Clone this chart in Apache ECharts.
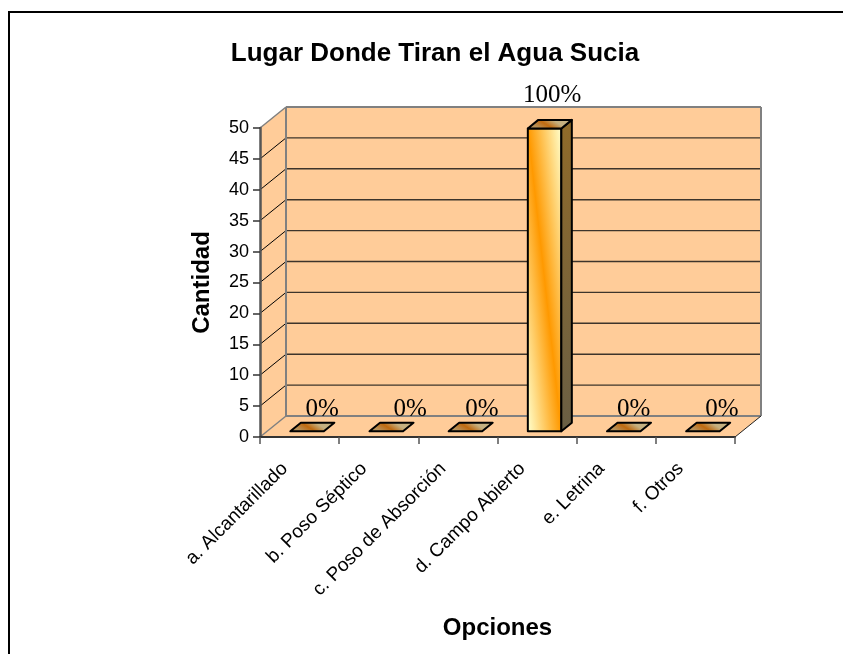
<!DOCTYPE html>
<html>
<head>
<meta charset="utf-8">
<style>html,body{margin:0;padding:0;background:#fff}#chart{width:843px;height:654px}</style>
<script src="https://cdn.jsdelivr.net/npm/echarts@6/dist/echarts.min.js"></script>
</head>
<body>
<div id="chart"></div>
<script>
// Survey results: where households dispose of dirty water
const categories = ['a. Alcantarillado', 'b. Poso Séptico', 'c. Poso de Absorción', 'd. Campo Abierto', 'e. Letrina', 'f. Otros'];
const counts = [0, 0, 0, 49, 0, 0];
const chartTitle = 'Lugar Donde Tiran el Agua Sucia';
const yAxisTitle = 'Cantidad';
const xAxisTitle = 'Opciones';

// Horizontal placement of each percentage label, relative to its bar
const labelShift = [15, 24, 16.5, 7.5, 10, 19];

// Pseudo-3D box geometry
const WALL_DX = 26, WALL_DY = 21;      // depth of the chart's back wall
const BAR_DX = 7.5, BAR_DY = 5.7;      // front face of a bar inside the depth
const BOX_DX = 10.5, BOX_DY = 8.6;     // depth of a bar
const BAR_W = 33.5;

const WALL = '#FFCC99', EDGE = '#808080', total = counts.reduce((a, b) => a + b, 0);
const seg = (x1, y1, x2, y2, stroke, lineWidth) => ({ type: 'line', shape: { x1, y1, x2, y2 }, style: { stroke, lineWidth } });
const poly = (points, fill, stroke, lineWidth) => ({ type: 'polygon', shape: { points }, style: { fill, stroke, lineWidth, lineJoin: 'round' } });
const grad = (x, y, x2, y2, stops) => new echarts.graphic.LinearGradient(x, y, x2, y2, stops.map((color, i) => ({ offset: i / (stops.length - 1), color })), true);

function renderWalls(params, api) {
  const band = api.size([1, 0])[0];
  const left = api.coord([0, 0])[0] - band / 2;
  const right = left + band * categories.length;
  const y0 = api.coord([0, 0])[1], yTop = api.coord([0, 50])[1];
  const dx = WALL_DX, dy = WALL_DY;
  const children = [
    poly([[left, y0], [left + dx, y0 - dy], [right + dx, y0 - dy], [right, y0]], WALL),
    poly([[left, yTop], [left + dx, yTop - dy], [left + dx, y0 - dy], [left, y0]], WALL),
    poly([[left + dx, yTop - dy], [right + dx, yTop - dy], [right + dx, y0 - dy], [left + dx, y0 - dy]], WALL)
  ];
  for (let v = 5; v < 50; v += 5) {
    const y = api.coord([0, v])[1];
    children.push(seg(left + dx, y - dy, right + dx, y - dy, '#3d342b', 1.4));
    children.push(seg(left, y, left + dx, y - dy, '#000', 1));
  }
  children.push(
    seg(left, yTop, left + dx, yTop - dy, EDGE, 1.5),
    seg(left + dx, yTop - dy, right + dx, yTop - dy, EDGE, 2),
    seg(left + dx, yTop - dy, left + dx, y0 - dy, EDGE, 2),
    seg(right + dx, yTop - dy, right + dx, y0 - dy, EDGE, 2),
    seg(left + dx, y0 - dy, right + dx, y0 - dy, EDGE, 2),
    seg(left, y0, left + dx, y0 - dy, EDGE, 1.5),
    seg(right, y0, right + dx, y0 - dy, '#222', 1)
  );
  return { type: 'group', children };
}

function renderBar(params, api) {
  const i = api.value(0), v = api.value(1);
  const base = api.coord([i, 0]), top = api.coord([i, v]);
  const cx = base[0] + BAR_DX, bottom = base[1] - BAR_DY, yTop = top[1] - BAR_DY;
  const x0 = cx - BAR_W / 2, x1 = cx + BAR_W / 2;
  const h = bottom - yTop;
  const children = [];

  if (h > 0) {
    // Diagonal sheen: orange along the top-left to bottom-right corners, pale elsewhere
    const len = Math.hypot(BAR_W, h);
    const nx = h / len, ny = -BAR_W / len;
    const reach = (BAR_W / 2) * nx - (h / 2) * ny;
    const mx = (x0 + x1) / 2, my = (yTop + bottom) / 2;
    children.push(poly([[x0, yTop], [x1, yTop], [x1, bottom], [x0, bottom]],
      grad(mx - reach * nx, my - reach * ny, mx + reach * nx, my + reach * ny, ['#FFFFCC', '#FF9900', '#FFFFCC']), '#000', 2));
    children.push(poly([[x1, yTop], [x1 + BOX_DX, yTop - BOX_DY], [x1 + BOX_DX, bottom - BOX_DY], [x1, bottom]],
      grad(x1, yTop, x1 + BOX_DX, bottom, ['#8F6A2A', '#6A5F44']), '#000', 2));
  }
  // Top face (all that shows for an empty bar)
  children.push(poly([[x0, yTop], [x1, yTop], [x1 + BOX_DX, yTop - BOX_DY], [x0 + BOX_DX, yTop - BOX_DY]],
    grad(x0 + 14, yTop + 2, x0 + 22, yTop - BOX_DY - 2, ['#B8925A', '#BF6A10', '#C5B080']), '#000', 2));

  children.push({
    type: 'text',
    style: {
      x: cx + labelShift[i],
      y: yTop - (v > 0 ? 21 : 9),
      text: Math.round(v / total * 100) + '%',
      fill: '#000',
      font: '25px "Liberation Serif"',
      align: 'center',
      verticalAlign: 'bottom'
    }
  });
  return { type: 'group', children };
}

const chart = echarts.init(document.getElementById('chart'), null, { renderer: 'canvas' });
chart.setOption({
  animation: false,
  backgroundColor: '#fff',
  textStyle: { fontFamily: '"Liberation Sans"' },
  title: {
    text: chartTitle,
    left: 430,
    top: 36,
    textAlign: 'center',
    textStyle: { fontFamily: '"Liberation Sans"', fontSize: 26, fontWeight: 'bold', color: '#000' }
  },
  graphic: [{
    type: 'rect',
    shape: { x: 9, y: 12, width: 900, height: 700 },
    style: { fill: 'none', stroke: '#000', lineWidth: 2 },
    silent: true
  }],
  grid: { left: 260, top: 128, width: 475, height: 309, containLabel: false },
  xAxis: {
    type: 'category',
    data: categories,
    z: 5,
    name: xAxisTitle,
    nameLocation: 'middle',
    nameGap: 179,
    nameTextStyle: { fontFamily: '"Liberation Sans"', fontSize: 24, fontWeight: 'bold', color: '#000' },
    axisLine: { lineStyle: { color: '#333', width: 2 } },
    axisTick: { show: true, length: 7, alignWithLabel: false, lineStyle: { color: '#555', width: 1.5 } },
    axisLabel: { interval: 0, rotate: 45, margin: 14, padding: [0, 21, 0, 0], fontSize: 19, color: '#000', fontFamily: '"Liberation Sans"' },
    splitLine: { show: false }
  },
  yAxis: {
    type: 'value',
    min: 0,
    max: 50,
    interval: 5,
    z: 5,
    name: yAxisTitle,
    nameLocation: 'middle',
    nameGap: 46,
    nameRotate: 90,
    nameTextStyle: { fontFamily: '"Liberation Sans"', fontSize: 24, fontWeight: 'bold', color: '#000' },
    axisLine: { show: true, lineStyle: { color: '#555', width: 2.5 } },
    axisTick: { show: true, length: 7, lineStyle: { color: '#333', width: 1.5 } },
    axisLabel: { margin: 11, fontSize: 18, color: '#000', fontFamily: '"Liberation Sans"' },
    splitLine: { show: false }
  },
  series: [
    { type: 'custom', name: 'walls', z: 1, silent: true, clip: false, renderItem: renderWalls, data: [[0, 0]] },
    { type: 'custom', name: yAxisTitle, z: 6, silent: true, clip: false, renderItem: renderBar, data: counts.map((v, i) => [i, v]), encode: { x: 0, y: 1 } }
  ]
});
</script>
</body>
</html>
